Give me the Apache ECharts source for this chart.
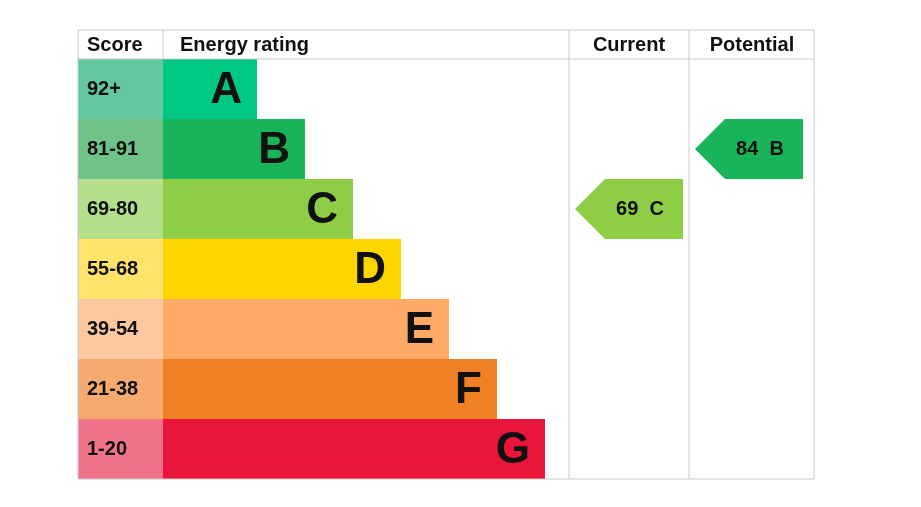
<!DOCTYPE html><html><head><meta charset="utf-8"><script src="https://cdn.jsdelivr.net/npm/echarts@6/dist/echarts.min.js"></script>
<style>html,body{margin:0;padding:0;background:#fff}#c{width:921px;height:507px}</style></head><body><div id="c"></div><script>
const bands=['A','B','C','D','E','F','G'];
const scores=['92+','81-91','69-80','55-68','39-54','21-38','1-20'];
const barEnds=[179,227,275,323,371,419,467];
const barColors=['#00c781','#19b459','#8dce46','#ffd500','#fcaa65','#ef8023','#e9153b'];
const scoreColors=['#63c8a0','#6fc388','#b5de8a','#ffe36b','#fdc8a0','#f5aa70','#f0728b'];
const current={value:69,band:'C'};
const potential={value:84,band:'B'};
const chart=echarts.init(document.getElementById('c'));
const F='Liberation Sans, Arial, sans-serif';
function arrowItem(pv,x0,x1){
  return function(params,api){
    const row=bands.indexOf(pv.band);
    const p0=api.coord([x0,row]),p1=api.coord([x1,row]);
    const h=api.size([0,1])[1];
    const t=p0[1]-h/2,b=p0[1]+h/2,tip=30;
    return {type:'group',children:[
      {type:'polygon',shape:{points:[[p0[0],p0[1]],[p0[0]+tip,t],[p1[0],t],[p1[0],b],[p0[0]+tip,b]]},style:{fill:barColors[row]}},
      {type:'text',style:{text:pv.value+'  '+pv.band,x:(p0[0]+tip+p1[0])/2-4,y:p0[1],align:'center',verticalAlign:'middle',font:'bold 20px '+F,fill:'#111'}}
    ]};
  };
}
chart.setOption({animation:false,
 grid:{left:78,right:107,top:59,bottom:28},
 xAxis:{type:'value',min:0,max:736,show:false},
 yAxis:{type:'category',data:bands,inverse:true,show:false},
 series:[
  {type:'custom',data:bands.map((b,i)=>[i]),renderItem:function(params,api){
    const i=api.value(0);const h=api.size([0,1])[1];
    const s=api.coord([0,i]),m=api.coord([85,i]),e=api.coord([barEnds[i],i]);
    const t=s[1]-h/2;
    return {type:'group',children:[
      {type:'rect',shape:{x:s[0],y:t,width:m[0]-s[0],height:h},style:{fill:scoreColors[i]}},
      {type:'rect',shape:{x:m[0],y:t,width:e[0]-m[0],height:h},style:{fill:barColors[i]}},
      {type:'text',style:{text:scores[i],x:s[0]+9,y:s[1],verticalAlign:'middle',font:'bold 20px '+F,fill:'#111'}},
      {type:'text',style:{text:bands[i],x:e[0]-15,y:s[1]+2,align:'right',verticalAlign:'middle',font:'bold 44px '+F,fill:'#111'}}
    ]};
  }},
  {type:'custom',data:[[0]],renderItem:arrowItem(current,497,605)},
  {type:'custom',data:[[0]],renderItem:arrowItem(potential,617,725)}
 ],
 graphic:[
  ...[[78,30,814,30],[78,59,814,59],[78,479,814,479],[78,30,78,479],[163,30,163,59],[569,30,569,479],[689,30,689,479],[814,30,814,479]].map(l=>({type:'line',z:10,shape:{x1:l[0],y1:l[1],x2:l[2],y2:l[3]},style:{stroke:'#c8c8c8',lineWidth:1}})),
  {type:'text',style:{text:'Score',x:87,y:45,verticalAlign:'middle',font:'bold 20px '+F,fill:'#111'}},
  {type:'text',style:{text:'Energy rating',x:180,y:45,verticalAlign:'middle',font:'bold 20px '+F,fill:'#111'}},
  {type:'text',style:{text:'Current',x:629,y:45,align:'center',verticalAlign:'middle',font:'bold 20px '+F,fill:'#111'}},
  {type:'text',style:{text:'Potential',x:752,y:45,align:'center',verticalAlign:'middle',font:'bold 20px '+F,fill:'#111'}}
 ]});
</script></body></html>
